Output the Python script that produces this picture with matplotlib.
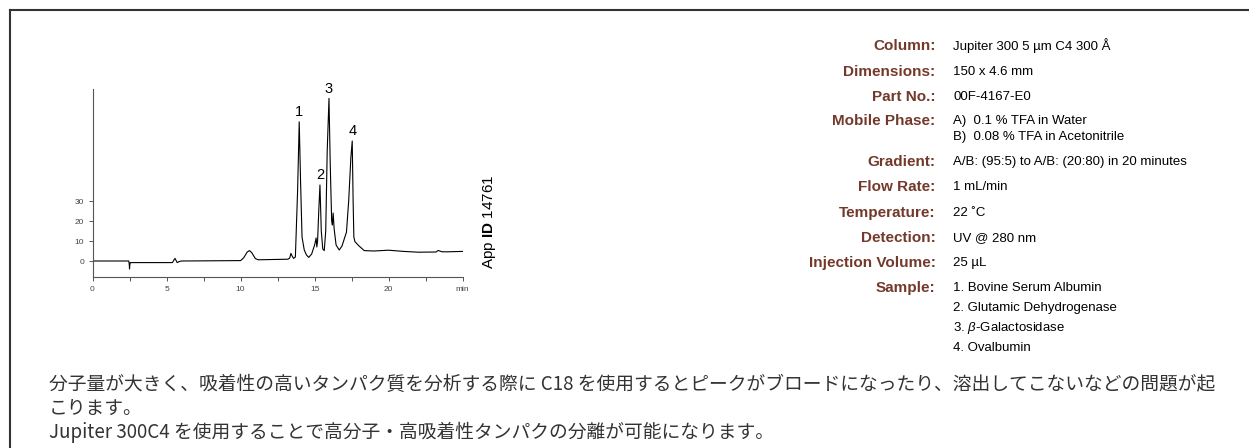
import matplotlib
matplotlib.use("Agg")
import matplotlib.pyplot as plt
from matplotlib.lines import Line2D

# chromatogram trace (min, mAU)
time_min = [0, 2.45, 2.48, 2.5, 2.52, 2.55, 5.4, 5.5, 5.57, 5.65, 5.72, 5.85, 6.0,
            10.0, 10.2, 10.45, 10.6, 10.75, 11.0, 11.2, 13.2, 13.32, 13.4, 13.48,
            13.58, 13.7, 13.85, 13.96, 14.05, 14.15, 14.3, 14.45, 14.6, 14.8, 15.0,
            15.1, 15.15, 15.2, 15.28, 15.36, 15.45, 15.55, 15.65, 15.75, 15.85,
            15.97, 16.05, 16.15, 16.2, 16.25, 16.32, 16.45, 16.66, 16.85, 17.0,
            17.15, 17.3, 17.45, 17.54, 17.6, 17.65, 17.72, 18.0, 18.35, 19.0,
            20.0, 21.0, 22.0, 23.2, 23.35, 23.45, 23.6, 24.0, 25.0]
signal = [0, 0, -1.5, -4, -2, -0.8, -0.8, 0.5, 1.3, 0.2, -0.8, -0.3, 0,
          0.2, 1.5, 4.5, 5.2, 4.2, 1.2, 0.6, 0.9, 1.5, 3.8, 2.5,
          1.3, 2.0, 35, 69.6, 40, 12, 5.5, 3.0, 1.8, 3.5, 8,
          11.5, 7, 10, 25, 38, 15, 6, 5.2, 15, 55,
          81.3, 50, 20, 18, 24, 16, 8, 5.5, 7.5, 11,
          14.4, 30, 52, 60, 30, 12, 9.7, 7.5, 5.2, 5.0,
          5.4, 4.8, 4.4, 4.5, 5.3, 5.0, 4.6, 4.6, 4.8]

peak_names = ["1", "2", "3", "4"]
peak_times = [13.96, 15.36, 15.97, 17.54]
peak_heights = [69.6, 38, 81.3, 60]

x_ticks = [0, 2.5, 5, 7.5, 10, 12.5, 15, 17.5, 20, 22.5, 25]
x_tick_labels = ["0", "", "5", "", "10", "", "15", "", "20", "", "min"]
y_ticks = [0, 10, 20, 30]

spec_labels = ["Column:", "Dimensions:", "Part No.:", "Mobile Phase:", "Gradient:",
               "Flow Rate:", "Temperature:", "Detection:", "Injection Volume:", "Sample:"]
spec_values = [["Jupiter 300 5 µm C4 300 Å"], ["150 x 4.6 mm"], ["00F-4167-E0"],
               ["A)  0.1 % TFA in Water", "B)  0.08 % TFA in Acetonitrile"],
               ["A/B: (95:5) to A/B: (20:80) in 20 minutes"], ["1 mL/min"], ["22 ˚C"],
               ["UV @ 280 nm"], ["25 µL"],
               ["1. Bovine Serum Albumin", "2. Glutamic Dehydrogenase",
                "3. $\\beta$-Galactosidase", "4. Ovalbumin"]]
spec_rows_y = [46, 71.7, 96.7, 120.7, 161.7, 186.7, 212.7, 237.7, 262.7, 287.7]

notes = ["分子量が大きく、吸着性の高いタンパク質を分析する際に C18 を使用するとピークがブロードになったり、溶出してこないなどの問題が起",
         "こります。",
         "Jupiter 300C4 を使用することで高分子・高吸着性タンパクの分離が可能になります。"]
notes_y = [384, 408, 432]

W, H = 1249, 448
sans = ["Liberation Sans", "DejaVu Sans"]
brown = "#73392a"

plt.rcParams["mathtext.fontset"] = "custom"
plt.rcParams["mathtext.rm"] = "Liberation Sans"
plt.rcParams["mathtext.it"] = "Liberation Sans:italic"
plt.rcParams["mathtext.bf"] = "Liberation Sans:bold"

fig = plt.figure(figsize=(W / 100, H / 100), dpi=100)


def fx(px):
    return px / W


def fy(py):
    return 1 - py / H


# frame (top and left only)
fig.add_artist(Line2D([fx(10), 1], [fy(10), fy(10)], color="#333333", lw=1.5))
fig.add_artist(Line2D([fx(10), fx(10)], [fy(10), 0], color="#333333", lw=1.5))

# chromatogram
ax = fig.add_axes([fx(92.5), fy(277.3), fx(462.7) - fx(92.5), fy(89.3) - fy(277.3)])
ax.plot(time_min, signal, color="black", lw=0.8)
ax.set_xlim(0, 25)
ax.set_ylim(-8.15, 85.85)
for s in ["top", "right"]:
    ax.spines[s].set_visible(False)
for s in ["left", "bottom"]:
    ax.spines[s].set_color("#555555")
    ax.spines[s].set_linewidth(0.8)
ax.set_xticks(x_ticks)
ax.set_xticklabels(x_tick_labels)
ax.set_yticks(y_ticks)
ax.tick_params(axis="both", length=3, width=0.7, color="#555555",
               labelsize=6, labelcolor="#444444", pad=3)
for t in ax.get_xticklabels() + ax.get_yticklabels():
    t.set_family(sans)

for name, t, h in zip(peak_names, peak_times, peak_heights):
    ax.annotate(name, (t, h), xytext=(0, 2), textcoords="offset points",
                ha="center", va="bottom", fontsize=10.5, family=sans)

fig.text(fx(490), fy(222), "App $\\mathbf{ID}$ 14761", rotation=90, ha="center",
         va="center", fontsize=11, family=sans)

# method table
for lab, vals, y in zip(spec_labels, spec_values, spec_rows_y):
    fig.text(fx(935.5), fy(y), lab, ha="right", va="center", fontsize=11,
             fontweight="bold", color=brown, family=sans)
    step = 20 if len(vals) > 2 else 16
    for i, v in enumerate(vals):
        fig.text(fx(953), fy(y + i * step), v, ha="left", va="center",
                 fontsize=9.5, family=sans)

# japanese notes
for line, y in zip(notes, notes_y):
    fig.text(fx(49), fy(y), line, ha="left", va="center", fontsize=13.5, color="#333333",
             family=["Noto Sans CJK JP", "DejaVu Sans"])

fig.savefig("out.png", dpi=100)
